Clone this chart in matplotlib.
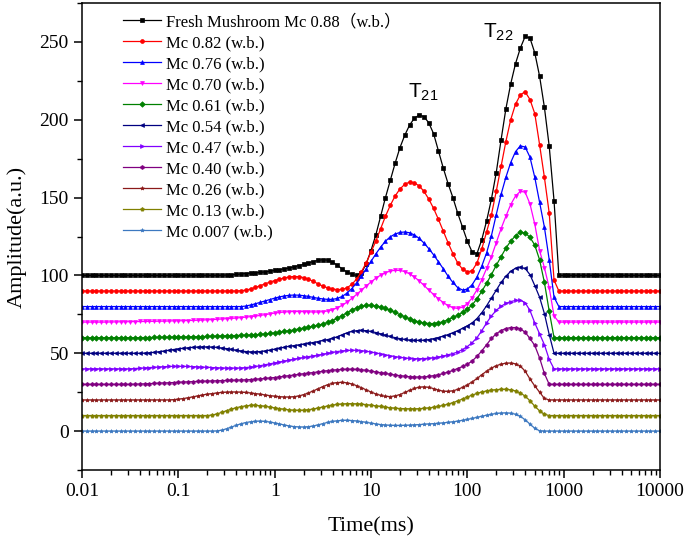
import numpy as np
import matplotlib.pyplot as plt
from matplotlib.ticker import MultipleLocator, LogLocator, NullFormatter

plt.rcParams['font.family'] = ['Liberation Serif', 'Noto Sans CJK SC']
plt.rcParams['mathtext.default'] = 'regular'

# sampling times, 20 points per decade
time_ms = np.logspace(-2, 4, 121)

fresh_088 = [100] * 24 + [
    100, 100, 100, 100, 100, 100.1, 100.2, 100.4, 100.6, 100.9,
    101.2, 101.5, 101.6, 101.9, 102.3, 102.7, 103.2, 103.7, 104.2, 104.8,
    105.5, 106.3, 107.1, 108.0, 108.9, 109.7, 110.1, 109.8, 108.6, 106.5,
    104.2, 102.2, 100.7, 100.0, 101.5, 107.5, 116, 126, 138, 150,
    161, 172, 182, 190, 196.5, 201, 203, 202, 198, 191,
    180, 169, 159, 150, 140, 131, 122, 115, 114, 123,
    135, 149, 166, 187, 207, 223, 236, 246, 253.5, 252.5,
    243, 228, 208, 183, 148, 100, 100] + [100] * 20

mc_082 = [90] * 24 + [
    90, 90, 90, 90, 90, 90, 90, 90, 90, 90.2,
    90.5, 91.3, 92.3, 93.4, 94.6, 95.7, 96.7, 97.6, 98.4, 99.0,
    99.3, 99.2, 98.6, 97.6, 96.2, 94.6, 93.1, 92.0, 91.2, 90.9,
    91.0, 92.0, 94.2, 97.6, 102.3, 108, 115, 122, 130, 138,
    145, 151, 155.5, 158.5, 160, 159.5, 157.5, 154, 149, 143,
    136, 128.5, 121, 114, 108, 104, 102.3, 103, 108, 117,
    128, 139, 154, 170, 186, 200, 210, 216, 218, 213,
    204, 184, 163, 140, 97, 90, 90] + [90] * 20

mc_076 = [80] * 24 + [
    80, 80, 80, 80, 80, 80, 80, 80, 80, 80,
    80.3, 81.0, 81.8, 82.7, 83.6, 84.5, 85.4, 86.2, 86.8, 87.2,
    87.4, 87.3, 87.0, 86.5, 85.9, 85.3, 84.9, 84.6, 84.6, 85.2,
    86.5, 88.6, 91.5, 95.2, 99.5, 104.2, 109, 113.8, 118.2, 122,
    124.8, 126.6, 127.6, 127.9, 127.4, 126, 123.8, 120.8, 117.2, 113.2,
    108.8, 104.3, 99.5, 95.5, 92.2, 90.6, 91.2, 94, 99, 106,
    114.5, 125.5, 139, 152, 163, 172.5, 179.5, 183.2, 182.5, 176,
    163, 147, 131, 110, 86, 80, 80] + [80] * 20

mc_070 = [70] * 6 + [
    70.1, 70.1, 70.2, 70.2, 70.3, 70.3, 70.4, 70.4, 70.5, 70.5,
    70.6, 70.6, 70.7, 70.8, 70.8, 70.9, 71.0, 71.1] + [
    71.2, 71.3, 71.5, 71.6, 71.8, 72.0, 72.2, 72.4, 72.6, 72.9,
    73.2, 73.5, 73.9, 74.3, 74.8, 75.3, 75.8, 76.2, 76.5, 76.7,
    76.8, 76.8, 76.7, 76.6, 76.5, 76.5, 76.7, 77.2, 78.0, 79.2,
    80.8, 82.8, 85.2, 87.8, 90.5, 93.2, 95.8, 98.2, 100.2, 101.8,
    102.8, 103.3, 103.2, 102.5, 101.0, 99.0, 96.5, 93.6, 90.6, 87.7,
    85.0, 82.6, 80.6, 79.3, 78.8, 79.6, 81.8, 85.6, 90.8, 97.2,
    104.5, 112, 121, 130, 138, 145.5, 151, 154, 153.5, 146,
    133, 116, 105, 92, 74, 70, 70] + [70] * 20

mc_061 = [60] * 13 + [
    60.1, 60.1, 60.2, 60.2, 60.3, 60.3, 60.4, 60.4, 60.5, 60.5, 60.6] + [
    60.6, 60.7, 60.8, 60.9, 61.0, 61.1, 61.2, 61.3, 61.4, 61.5,
    61.6, 61.7, 61.9, 62.1, 62.4, 62.7, 63.1, 63.5, 64.0, 64.5,
    65.0, 65.6, 66.2, 66.8, 67.4, 68.0, 68.8, 69.8, 71.0, 72.5,
    74.2, 76.0, 77.7, 79.1, 80.1, 80.7, 80.8, 80.5, 79.8, 78.8,
    77.6, 76.2, 74.8, 73.4, 72.1, 71.0, 70.1, 69.5, 69.1, 69.1,
    69.5, 70.3, 71.5, 73.0, 74.4, 76.2, 78.3, 81.0, 85.0, 89.8,
    95.0, 100.5, 106.5, 112.0, 117.5, 122.0, 125.5, 127.8, 127.3, 124.5,
    119.5, 110, 95.5, 77, 60, 60, 60] + [60] * 20

mc_054 = [50] * 13 + [
    50.1, 50.3, 50.6, 51.0, 51.4, 51.9, 52.4, 52.8, 53.2, 53.5, 53.8] + [
    54.0, 54.1, 54.1, 54.0, 53.8, 53.4, 53.0, 52.5, 52.0, 51.5,
    51.1, 50.9, 50.9, 51.1, 51.5, 52.0, 52.6, 53.2, 53.9, 54.5,
    54.9, 55.4, 55.9, 56.4, 56.9, 57.5, 58.2, 58.8, 59.5, 60.6,
    61.9, 63.1, 64.0, 64.5, 64.7, 64.5, 64.0, 63.3, 62.5, 61.6,
    60.8, 60.0, 59.4, 58.9, 58.5, 58.3, 58.3, 58.4, 58.8, 59.4,
    60.1, 61.0, 62.0, 63.2, 64.5, 66.0, 67.6, 69.5, 72.3, 76.0,
    80.5, 85.5, 90.5, 95.5, 99.5, 102.6, 104.6, 105.3, 104.5, 100.5,
    93.5, 86, 75.5, 62, 50, 50, 50] + [50] * 20

mc_047 = [40] * 11 + [
    40.2, 40.4, 40.6, 40.8, 41.0, 41.2, 41.4, 41.5, 41.6, 41.6, 41.6, 41.5, 41.4] + [
    41.3, 41.1, 41.0, 40.8, 40.7, 40.6, 40.5, 40.5, 40.5, 40.6,
    40.8, 41.1, 41.5, 42.0, 42.6, 43.2, 43.8, 44.4, 45.0, 45.6,
    46.2, 46.8, 47.3, 47.8, 48.3, 48.8, 49.4, 50.0, 50.6, 51.1,
    51.5, 51.8, 51.9, 51.9, 51.7, 51.3, 50.8, 50.2, 49.6, 49.0,
    48.4, 47.9, 47.4, 47.0, 46.7, 46.5, 46.5, 46.6, 46.8, 47.2,
    47.6, 48.2, 49.0, 49.8, 50.8, 52.4, 54.3, 56.8, 60.0, 64.5,
    69.5, 74.0, 77.5, 80.2, 82.0, 83.2, 83.9, 84.0, 82.5, 77.5,
    69.5, 62.5, 55.5, 46, 40, 40, 40] + [40] * 20

mc_040 = [30] * 11 + [
    30.1, 30.2, 30.3, 30.5, 30.6, 30.8, 30.9, 31.0, 31.2, 31.3, 31.5, 31.6, 31.8] + [
    31.9, 32.0, 32.1, 32.2, 32.3, 32.4, 32.5, 32.6, 32.7, 32.8,
    32.9, 33.1, 33.3, 33.5, 33.8, 34.1, 34.4, 34.8, 35.2, 35.6,
    36.0, 36.4, 36.8, 37.2, 37.6, 38.0, 38.4, 38.8, 39.1, 39.4,
    39.6, 39.7, 39.7, 39.6, 39.3, 39.0, 38.5, 38.0, 37.5, 37.0,
    36.5, 36.0, 35.6, 35.2, 34.9, 34.7, 34.7, 34.8, 35.1, 35.6,
    36.2, 37.0, 37.9, 39.0, 40.2, 41.5, 43.0, 45.0, 48.0, 51.5,
    55.5, 59.5, 62.5, 64.6, 65.9, 66.5, 66.5, 65.7, 63.5, 59.5,
    55, 47, 37, 30, 30, 30, 30] + [30] * 20

mc_026 = [20] * 19 + [20.2, 20.5, 20.9, 21.4, 22.0] + [
    22.6, 23.2, 23.7, 24.1, 24.5, 24.8, 25.0, 25.1, 25.1, 25.0,
    24.8, 24.5, 24.1, 23.7, 23.2, 22.8, 22.4, 22.1, 21.9, 21.9,
    22.1, 22.6, 23.4, 24.5, 25.8, 27.2, 28.6, 29.8, 30.7, 31.2,
    31.3, 31.0, 30.3, 29.2, 27.9, 26.5, 25.1, 23.9, 22.9, 22.3,
    22.2, 22.6, 23.5, 24.8, 26.2, 27.4, 28.2, 28.4, 28.1, 27.3,
    26.3, 25.6, 25.5, 25.9, 26.8, 28.1, 29.7, 31.6, 33.8, 36.2,
    38.5, 40.5, 42.0, 43.0, 43.6, 43.7, 43.2, 41.8, 38.5, 33.5,
    29, 25, 21, 20, 20, 20, 20] + [20] * 20

mc_013 = [10] * 24 + [
    10, 10, 10, 10.3, 11.0, 12.0, 13.1, 14.1, 15.0, 15.7,
    16.2, 16.5, 16.5, 16.3, 15.9, 15.4, 14.9, 14.4, 14.0, 13.6,
    13.4, 13.3, 13.4, 13.7, 14.2, 14.8, 15.5, 16.1, 16.7, 17.1,
    17.4, 17.6, 17.6, 17.5, 17.3, 17.0, 16.6, 16.2, 15.8, 15.4,
    15.0, 14.7, 14.5, 14.4, 14.3, 14.3, 14.4, 14.6, 14.9, 15.3,
    15.8, 16.5, 17.3, 18.3, 19.4, 20.6, 21.9, 23.1, 24.2, 25.1,
    25.8, 26.3, 26.6, 26.8, 26.8, 26.5, 25.8, 24.5, 22.5, 19.5,
    16, 13, 10.8, 10, 10, 10, 10] + [10] * 20

mc_0007 = [0] * 24 + [
    0, 0, 0, 0, 0.1, 0.6, 1.5, 2.6, 3.7, 4.7,
    5.5, 6.0, 6.3, 6.4, 6.2, 5.8, 5.2, 4.6, 3.9, 3.3,
    2.9, 2.7, 2.6, 2.8, 3.3, 4.0, 4.8, 5.6, 6.2, 6.6,
    6.9, 6.9, 6.8, 6.5, 6.1, 5.6, 5.1, 4.6, 4.2, 3.9,
    3.7, 3.6, 3.6, 3.7, 3.8, 4.0, 4.2, 4.4, 4.6, 4.8,
    5.0, 5.3, 5.6, 6.0, 6.4, 6.9, 7.5, 8.1, 8.8, 9.5,
    10.2, 10.8, 11.3, 11.6, 11.7, 11.5, 10.8, 9.5, 7.3, 4.5,
    1.8, 0.2, 0, 0, 0, 0, 0] + [0] * 20

series = [fresh_088, mc_082, mc_076, mc_070, mc_061, mc_054,
          mc_047, mc_040, mc_026, mc_013, mc_0007]
labels = ['Fresh Mushroom Mc 0.88（w.b.）', 'Mc 0.82 (w.b.)', 'Mc 0.76 (w.b.)',
          'Mc 0.70 (w.b.)', 'Mc 0.61 (w.b.)', 'Mc 0.54 (w.b.)', 'Mc 0.47 (w.b.)',
          'Mc 0.40 (w.b.)', 'Mc 0.26 (w.b.)', 'Mc 0.13 (w.b.)', 'Mc 0.007 (w.b.)']
colors = ['#000000', '#FF0000', '#0000FF', '#FF00FF', '#008000', '#000080',
          '#8000FF', '#800080', '#8B1A1A', '#808000', '#3C78C0']
markers = ['s', 'o', '^', 'v', 'D', '<', '>', 'h', '*', 'p', '*']

fig = plt.figure(figsize=(6.88, 5.45), dpi=100)
ax = fig.add_axes([0.1192, 0.1376, 0.8401, 0.8569])

for y, lab, c, m in zip(series, labels, colors, markers):
    ax.plot(time_ms, y, color=c, marker=m, markersize=2.8, markeredgewidth=0.5,
            linewidth=0.9, label=lab)

ax.set_xscale('log')
ax.set_xlim(0.01, 10000)
ax.set_ylim(-25, 275)
ax.set_xticks([0.01, 0.1, 1, 10, 100, 1000, 10000])
ax.set_xticklabels(['0.01', '0.1', '1', '10', '100', '1000', '10000'])
ax.xaxis.set_minor_locator(LogLocator(base=10, subs=np.arange(2, 10)))
ax.xaxis.set_minor_formatter(NullFormatter())
ax.yaxis.set_major_locator(MultipleLocator(50))
ax.yaxis.set_minor_locator(MultipleLocator(25))
ax.tick_params(which='major', direction='out', length=6, width=1.1, labelsize=14)
ax.tick_params(which='minor', direction='out', length=3.5, width=1.0)
for s in ax.spines.values():
    s.set_linewidth(1.1)

ax.set_xlabel('Time(ms)', fontsize=16, labelpad=12)
ax.set_ylabel('Amplitude(a.u.)', fontsize=16, labelpad=9)

ax.text(24.3, 214, 'T$_{21}$', fontsize=15, family='Liberation Sans')
ax.text(146, 253, 'T$_{22}$', fontsize=15, family='Liberation Sans')

ax.legend(loc='upper left', bbox_to_anchor=(0.071, 0.976), frameon=False,
          fontsize=12, labelspacing=0.3, handlelength=2.3, handletextpad=0.3,
          borderpad=0, borderaxespad=0, numpoints=1)

fig.savefig('out.png', dpi=100)
